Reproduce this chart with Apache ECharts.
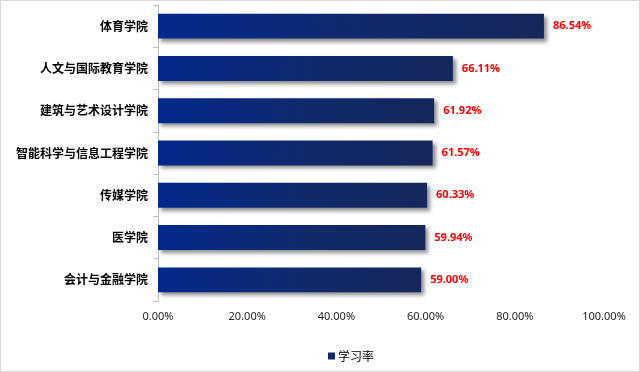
<!DOCTYPE html>
<html><head><meta charset="utf-8">
<script src="https://cdn.jsdelivr.net/npm/echarts@6/dist/echarts.min.js"></script>
<style>html,body{margin:0;padding:0;background:#fff}#c{width:640px;height:372px;box-sizing:border-box;border:1px solid #d9d9d9}</style>
</head><body><div id="c"></div>
<script>
var categories = ['体育学院','人文与国际教育学院','建筑与艺术设计学院','智能科学与信息工程学院','传媒学院','医学院','会计与金融学院'];
var values = [86.54, 66.11, 61.92, 61.57, 60.33, 59.94, 59.00];
var seriesName = '学习率';
var xTicks = [0, 20, 40, 60, 80, 100];

var chart = echarts.init(document.getElementById('c'));
chart.setOption({
  animation: false,
  grid: {left: 157, right: 35, top: 4, bottom: 70, containLabel: false},
  legend: {
    bottom: 4, left: 322, itemWidth: 7, itemHeight: 7, icon: 'rect', itemGap: 4,
    textStyle: {fontFamily: 'Noto Sans CJK SC', fontSize: 12, color: '#000', padding: [0,0,0,-2]},
    data: [seriesName]
  },
  xAxis: {
    type: 'value', min: xTicks[0], max: xTicks[xTicks.length-1], interval: 20,
    axisLine: {show: false}, axisTick: {show: false}, splitLine: {show: false},
    axisLabel: {margin: 10, fontFamily: 'Noto Sans', fontSize: 11, color: '#222',
      formatter: function(v){ return v.toFixed(2) + '%'; }}
  },
  yAxis: {
    type: 'category', inverse: true, data: categories,
    axisLine: {show: true, lineStyle: {color: '#bfbfbf'}},
    axisTick: {show: true, length: 5, inside: false, alignWithLabel: false, lineStyle: {color: '#bfbfbf'}},
    axisLabel: {margin: 10, fontFamily: 'Noto Sans CJK SC', fontWeight: 'bold', fontSize: 12, color: '#000'}
  },
  series: [{
    name: seriesName, type: 'bar', data: values, barCategoryGap: '41%',
    itemStyle: {
      color: new echarts.graphic.LinearGradient(0, 1, 1, 0, [
        {offset: 0, color: '#03298c'},
        {offset: 0.5, color: '#0f2a6e'},
        {offset: 1, color: '#15275a'}
      ]),
      shadowColor: 'rgba(0,0,0,0.45)', shadowBlur: 4, shadowOffsetX: 3, shadowOffsetY: 3
    },
    label: {show: true, position: 'right', distance: 9, color: '#ff0000', fontFamily: 'Noto Sans', fontWeight: 'bold', fontSize: 11,
      formatter: function(p){ return p.value.toFixed(2) + '%'; }}
  }],
  color: ['#15296a']
});
</script></body></html>
